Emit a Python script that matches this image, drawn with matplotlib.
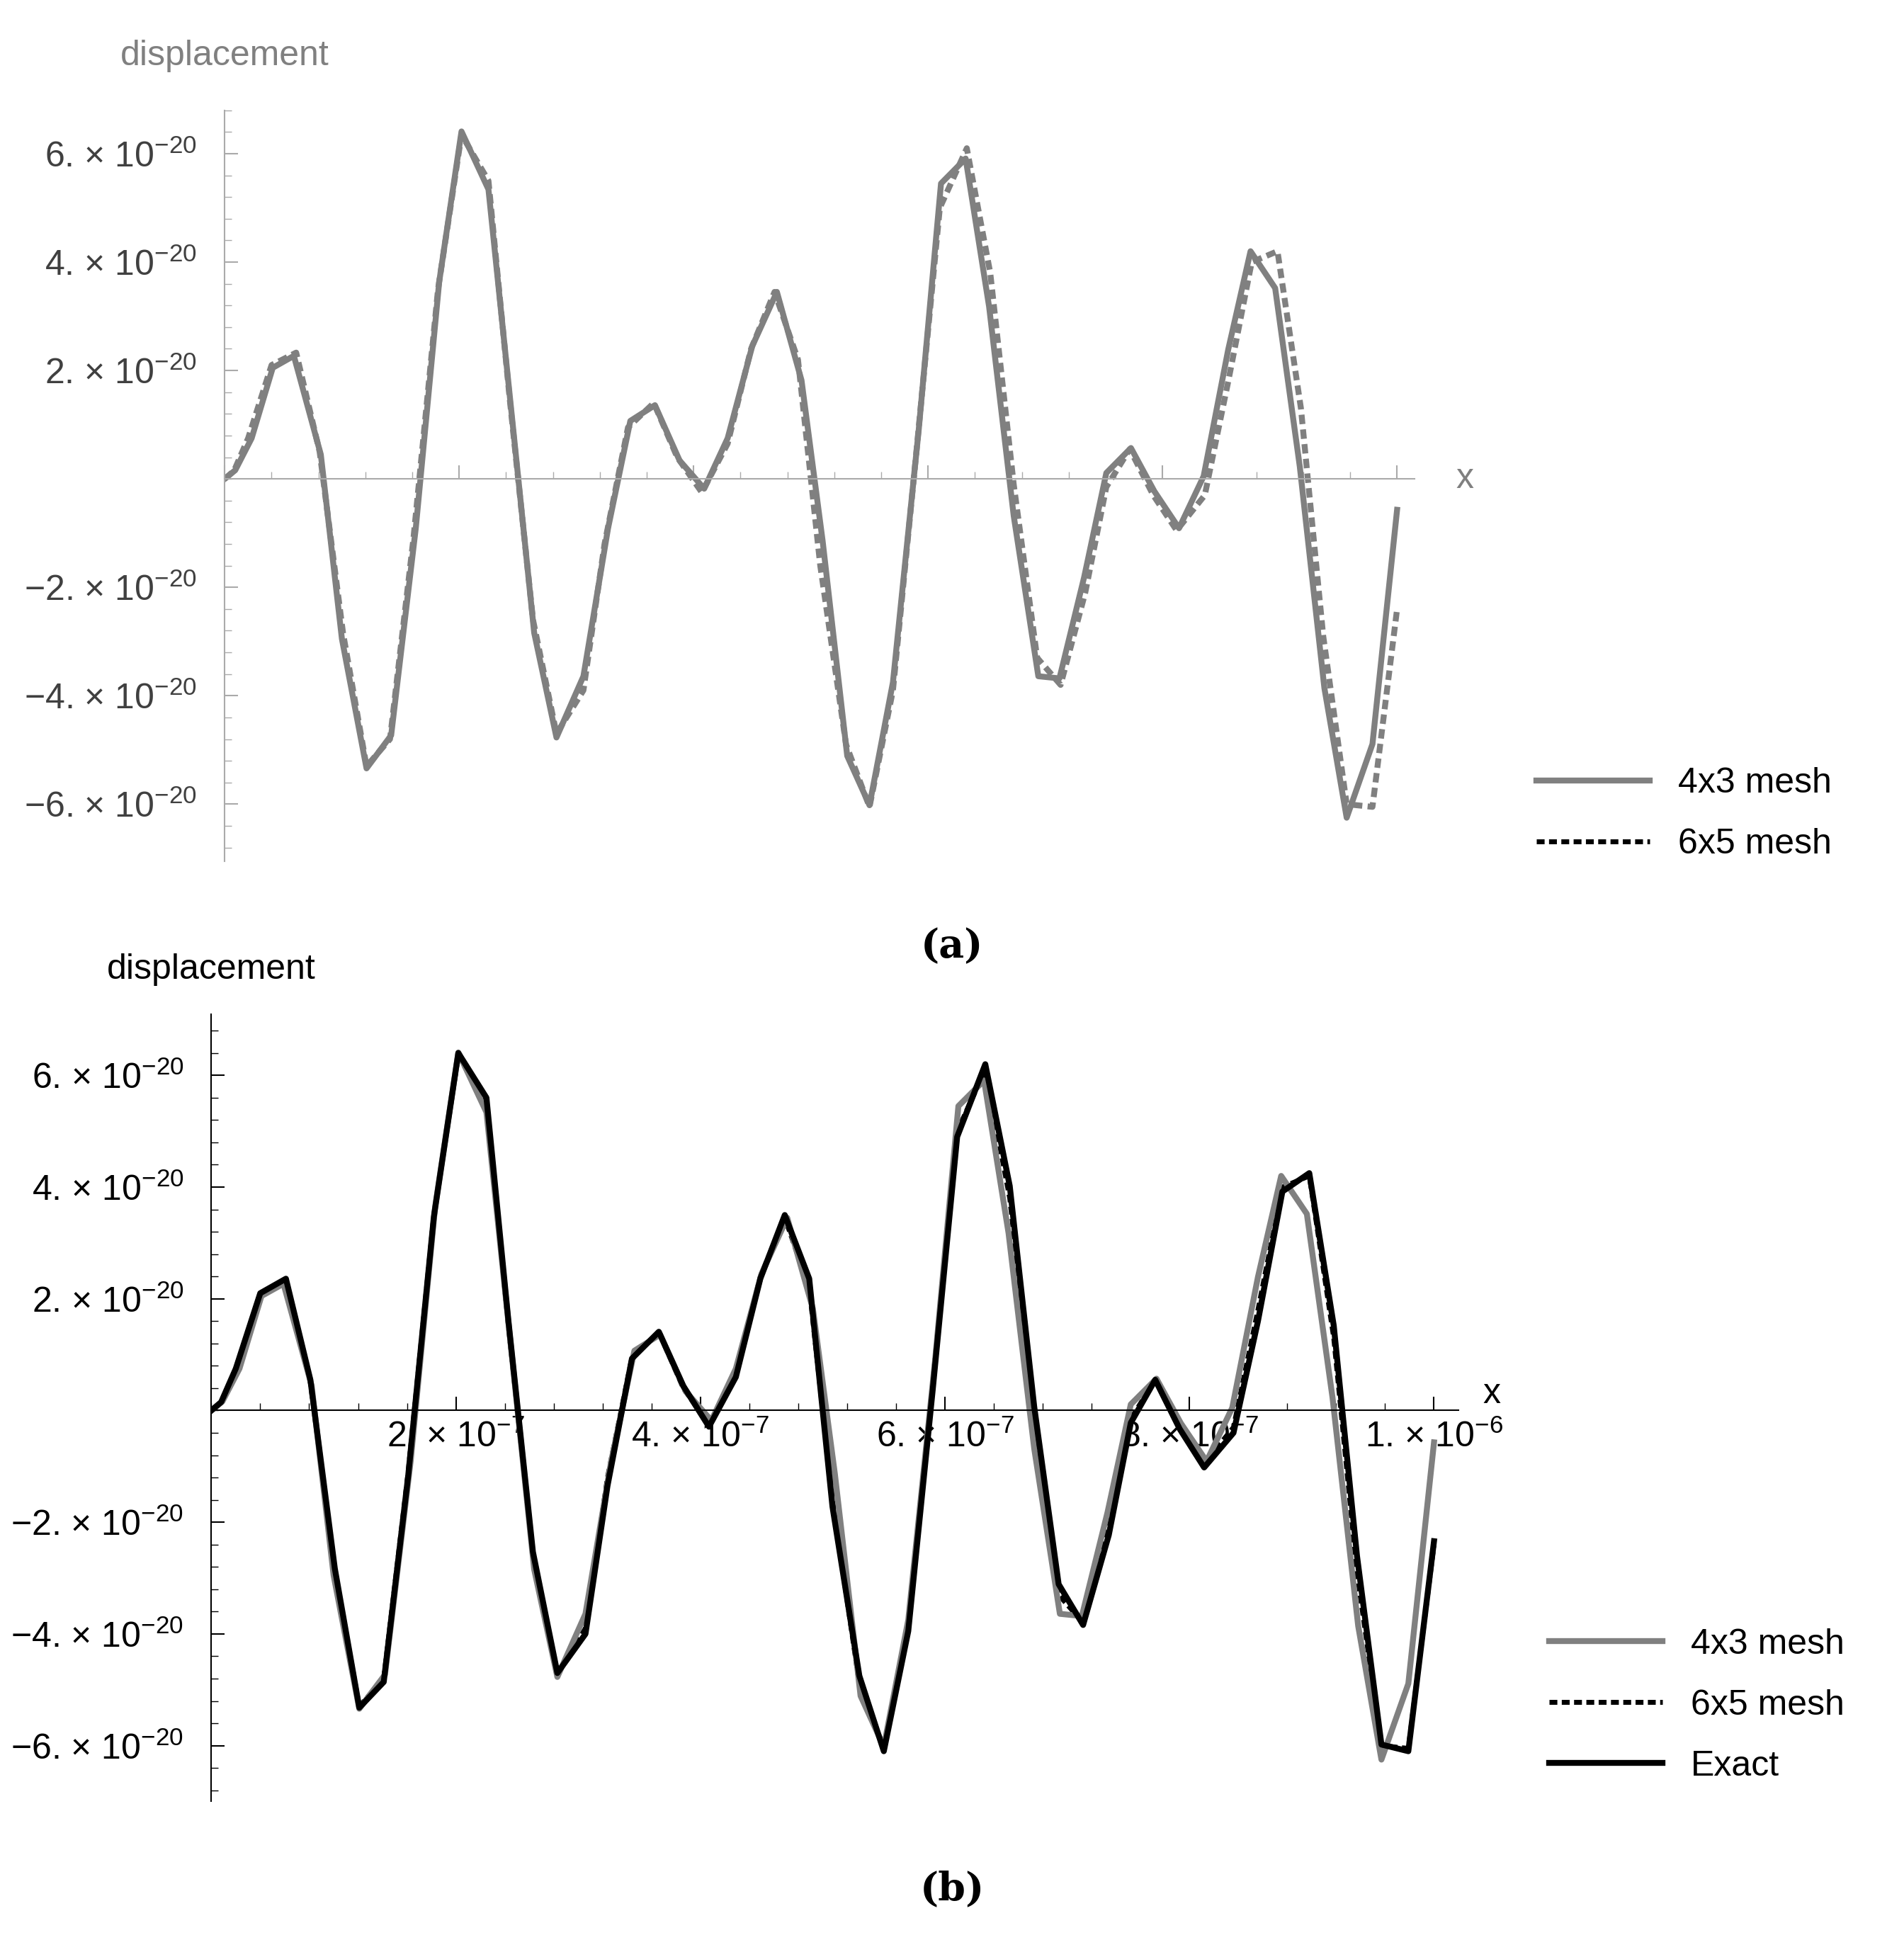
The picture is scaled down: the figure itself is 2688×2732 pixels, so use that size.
import matplotlib
matplotlib.use("Agg")
import matplotlib.pyplot as plt
from matplotlib.ticker import FixedLocator, MultipleLocator
from matplotlib.lines import Line2D

# x in units of 1e-7, y in units of 1e-20
x_coarse = [0,0.09,0.23,0.41,0.59,0.82,1.0,1.21,1.42,1.63,1.83,2.02,2.25,2.44,2.64,2.83,3.06,3.27,3.46,3.67,3.88,4.09,4.29,4.5,4.71,4.92,5.1,5.31,5.5,5.7,5.92,6.11,6.32,6.52,6.73,6.94,7.12,7.33,7.52,7.73,7.93,8.14,8.35,8.56,8.75,8.96,9.17,9.38,9.57,9.79,10.0]
y_coarse = [0,0.16,0.75,2.05,2.27,0.45,-2.95,-5.34,-4.73,-0.91,3.64,6.41,5.34,1.36,-2.84,-4.77,-3.64,-0.91,1.07,1.36,0.34,-0.18,0.75,2.45,3.45,1.82,-1.14,-5.11,-6.02,-3.75,0.91,5.45,5.91,3.18,-0.68,-3.64,-3.68,-1.82,0.11,0.57,-0.23,-0.91,0.05,2.39,4.2,3.52,0.23,-3.86,-6.25,-4.89,-0.57]
x_fine = [0,0.08,0.2,0.4,0.61,0.81,1.01,1.21,1.41,1.61,1.82,2.02,2.25,2.43,2.63,2.83,3.06,3.24,3.44,3.66,3.86,4.07,4.29,4.49,4.69,4.89,5.08,5.3,5.5,5.7,5.9,6.1,6.33,6.53,6.73,6.93,7.13,7.34,7.52,7.72,7.92,8.12,8.36,8.56,8.76,8.98,9.18,9.37,9.57,9.79,10.0]
y_fine = [0,0.15,0.75,2.1,2.33,0.5,-2.85,-5.3,-4.8,-1.1,3.5,6.35,5.5,1.5,-2.6,-4.7,-3.9,-1.2,0.95,1.4,0.4,-0.25,0.65,2.4,3.45,2.2,-1.6,-4.9,-6.05,-3.9,0.5,5.0,6.1,3.8,-0.1,-3.3,-3.8,-2.1,-0.15,0.55,-0.3,-0.95,-0.3,1.8,4.0,4.2,1.3,-2.9,-6.0,-6.05,-2.4]
x_exact = x_fine
y_exact = [0,0.15,0.75,2.1,2.36,0.55,-2.83,-5.32,-4.86,-1.17,3.47,6.4,5.6,1.6,-2.53,-4.7,-4.0,-1.35,0.93,1.41,0.44,-0.29,0.6,2.36,3.5,2.36,-1.72,-4.75,-6.1,-3.95,0.37,4.9,6.2,4.02,0.07,-3.11,-3.84,-2.23,-0.22,0.55,-0.33,-1.02,-0.4,1.6,3.92,4.25,1.52,-2.6,-5.98,-6.1,-2.34]
ytick_vals = [-6, -4, -2, 2, 4, 6]
xtick_vals = [2, 4, 6, 8, 10]
xtick_labels = ["2. × 10$^{-7}$", "4. × 10$^{-7}$", "6. × 10$^{-7}$", "8. × 10$^{-7}$", "1. × 10$^{-6}$"]

plt.rcParams['font.family'] = ['Liberation Sans', 'DejaVu Sans']
plt.rcParams['mathtext.fontset'] = 'custom'
plt.rcParams['mathtext.rm'] = 'Liberation Sans'
plt.rcParams['mathtext.it'] = 'Liberation Sans'
GRAY = '#808080'
FS = 36
DASH = (0, (1.6, 0.9))

fig = plt.figure(figsize=(26.88, 27.32), dpi=100)

def style(ax, axcol, labcol, show_x):
    for s in ['top', 'right']:
        ax.spines[s].set_visible(False)
    ax.spines['left'].set_position(('data', 0))
    ax.spines['bottom'].set_position(('data', 0))
    ax.spines['left'].set_color(axcol)
    ax.spines['bottom'].set_color(axcol)
    ax.spines['left'].set_linewidth(1.5)
    ax.spines['bottom'].set_linewidth(1.5)
    ax.yaxis.set_major_locator(FixedLocator(ytick_vals))
    ax.set_yticklabels([("−" if v < 0 else "") + f"{abs(v)}. × 10$^{{-20}}$" for v in ytick_vals])
    ax.yaxis.set_minor_locator(MultipleLocator(0.4))
    ax.xaxis.set_minor_locator(MultipleLocator(0.4))
    if show_x:
        ax.xaxis.set_major_locator(FixedLocator(xtick_vals))
        ax.set_xticklabels(xtick_labels)
    else:
        ax.xaxis.set_major_locator(MultipleLocator(2))
        ax.set_xticklabels([])
    ax.tick_params(which='major', length=14, width=1.5, color=axcol, labelsize=FS, labelcolor=labcol, direction='in', pad=28)
    ax.tick_params(which='minor', length=7, width=1, color=axcol, direction='in')
    ax.tick_params(axis='x', pad=10)

# panel a
ax1 = fig.add_axes([0.118, 0.555, 0.625, 0.388])
ax1.plot(x_fine, y_fine, color=GRAY, lw=6, ls=DASH)
ax1.plot(x_coarse, y_coarse, color=GRAY, lw=6)
ax1.set_xlim(0, 10.15)
ax1.set_ylim(-7.05, 6.8)
style(ax1, '#aaaaaa', '#404040', False)
ax1.text(0.0, 1.06, "displacement", transform=ax1.transAxes, fontsize=FS, color=GRAY, ha='center')
ax1.text(10.5, 0, "x", fontsize=FS, color=GRAY, va='center')
h1 = [Line2D([], [], color=GRAY, lw=6), Line2D([], [], color='black', lw=5, ls=DASH)]
fig.legend(h1, ["4x3 mesh", "6x5 mesh"], loc='upper left', bbox_to_anchor=(0.79, 0.62),
           frameon=False, fontsize=FS, handlelength=3.2, labelspacing=0.8)
fig.text(0.5, 0.505, "(a)", fontsize=40, ha='center', fontfamily='DejaVu Serif', weight='bold')

# panel b
ax2 = fig.add_axes([0.111, 0.069, 0.655, 0.407])
ax2.plot(x_fine, y_fine, color='black', lw=5, ls=DASH)
ax2.plot(x_coarse, y_coarse, color=GRAY, lw=6)
ax2.plot(x_exact, y_exact, color='black', lw=6)
ax2.set_xlim(0, 10.2)
ax2.set_ylim(-7.0, 7.1)
style(ax2, 'black', 'black', True)
ax2.text(0.0, 1.045, "displacement", transform=ax2.transAxes, fontsize=FS, color='black', ha='center')
ax2.text(10.4, 0, "x", fontsize=FS, color='black', va='bottom')
h2 = [Line2D([], [], color=GRAY, lw=6), Line2D([], [], color='black', lw=5, ls=DASH),
      Line2D([], [], color='black', lw=6)]
fig.legend(h2, ["4x3 mesh", "6x5 mesh", "Exact"], loc='upper left', bbox_to_anchor=(0.797, 0.175),
           frameon=False, fontsize=FS, handlelength=3.2, labelspacing=0.8)
fig.text(0.5, 0.018, "(b)", fontsize=40, ha='center', fontfamily='DejaVu Serif', weight='bold')

fig.savefig("out.png", dpi=100)
